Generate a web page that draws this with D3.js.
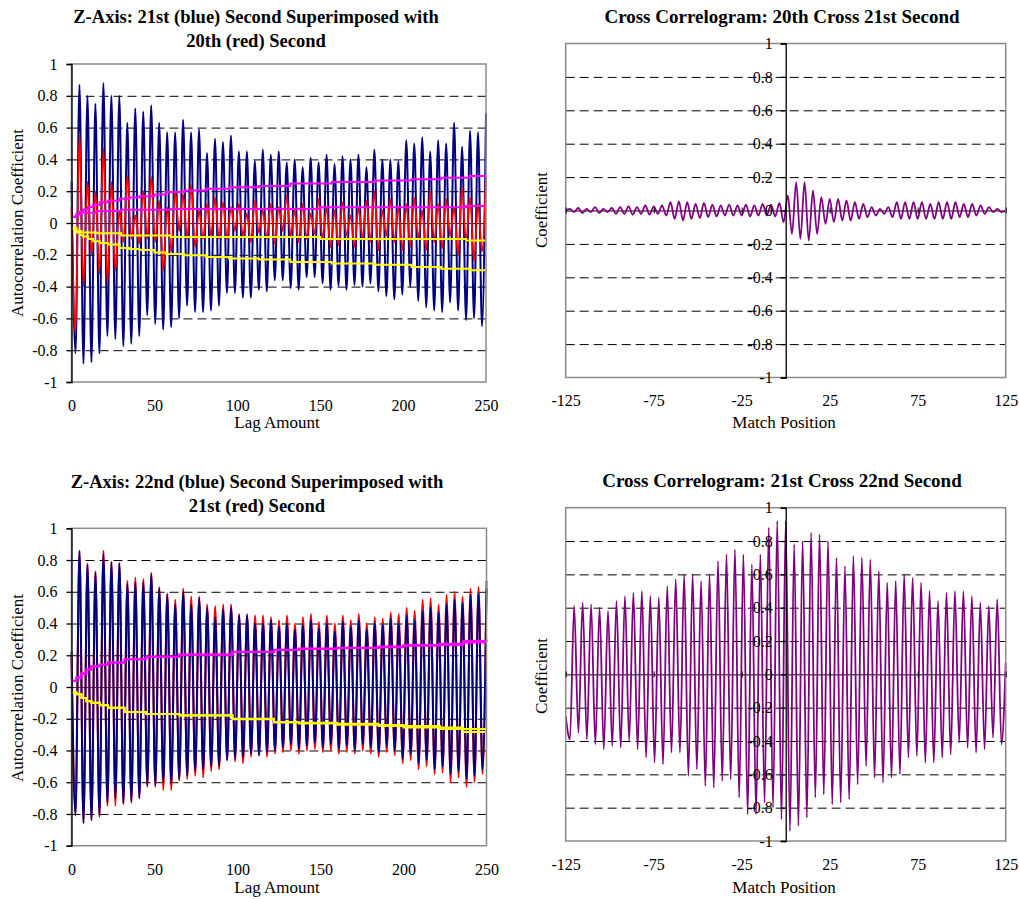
<!DOCTYPE html>
<html>
<head>
<meta charset="utf-8">
<script src="https://cdn.jsdelivr.net/npm/d3@7"></script>
<style>
  body { margin: 0; background: #fff; }
  text { font-family: "Liberation Serif", "Times New Roman", serif; fill: #000; }
</style>
</head>
<body>
<svg id="chart" width="1019" height="899"></svg>
<script>
// ---- axis ticks ----
const yTicks = [-1, -0.8, -0.6, -0.4, -0.2, 0, 0.2, 0.4, 0.6, 0.8, 1];
const yTickLabels = ['-1', '-0.8', '-0.6', '-0.4', '-0.2', '0', '0.2', '0.4', '0.6', '0.8', '1'];
const gridTicks = [-0.8, -0.6, -0.4, -0.2, 0.2, 0.4, 0.6, 0.8];
const lagTicks = [0, 50, 100, 150, 200, 250];
const matchTicks = [-125, -75, -25, 25, 75, 125];

// ---- top left: 21st (blue) vs 20th (red), turning points ----
const blue21Peaks = [0.26, 0.87, 0.80, 0.75, 0.88, 0.80, 0.80, 0.63, 0.72, 0.70, 0.74, 0.63, 0.57, 0.57, 0.65, 0.57, 0.59, 0.44, 0.53, 0.51, 0.55, 0.45, 0.45, 0.39, 0.46, 0.43, 0.45, 0.38, 0.40, 0.35, 0.41, 0.38, 0.43, 0.37, 0.42, 0.40, 0.43, 0.35, 0.46, 0.40, 0.40, 0.39, 0.52, 0.50, 0.54, 0.45, 0.52, 0.50, 0.63, 0.48, 0.58, 0.57, 0.69];
const blue21Troughs = [-0.82, -0.885, -0.875, -0.82, -0.71, -0.73, -0.775, -0.76, -0.71, -0.58, -0.635, -0.67, -0.655, -0.60, -0.52, -0.56, -0.56, -0.55, -0.52, -0.44, -0.44, -0.47, -0.47, -0.42, -0.43, -0.36, -0.36, -0.41, -0.42, -0.34, -0.34, -0.38, -0.42, -0.395, -0.42, -0.39, -0.40, -0.38, -0.43, -0.46, -0.48, -0.45, -0.40, -0.49, -0.53, -0.55, -0.56, -0.50, -0.55, -0.61, -0.60, -0.65];
const red20Peaks = [0.10, 0.57, 0.26, 0.20, 0.47, 0.26, 0.08, 0.30, 0.05, 0.20, 0.29, 0.14, 0.10, 0.20, 0.18, 0.24, 0.08, 0.12, 0.16, 0.13, 0.10, 0.12, 0.06, 0.14, 0.08, 0.12, 0.10, 0.17, 0.08, 0.12, 0.06, 0.15, 0.10, 0.08, 0.13, 0.05, 0.10, 0.14, 0.20, 0.08, 0.15, 0.10, 0.12, 0.16, 0.08, 0.20, 0.12, 0.15, 0.10, 0.22, 0.16, 0.12, 0.30];
const red20Troughs = [-0.69, -0.40, -0.20, -0.32, -0.38, -0.30, -0.12, -0.10, -0.13, -0.10, -0.12, -0.30, -0.18, -0.05, -0.10, -0.15, -0.10, -0.08, -0.10, -0.10, -0.05, -0.08, -0.12, -0.06, -0.10, -0.13, -0.05, -0.08, -0.12, -0.10, -0.07, -0.10, -0.15, -0.14, -0.08, -0.15, -0.10, -0.12, -0.17, -0.08, -0.12, -0.17, -0.15, -0.10, -0.17, -0.12, -0.16, -0.08, -0.20, -0.12, -0.24, -0.18];

// confidence bands (step lines)
const tlBlueBandLags = [0, 3, 5, 7, 10, 13, 17, 22, 29, 35, 41, 50, 57, 68, 81, 95, 113, 132, 157, 183, 205, 223, 240, 250];
const tlBlueBandHi = [0.04, 0.055, 0.07, 0.085, 0.10, 0.115, 0.13, 0.14, 0.153, 0.16, 0.168, 0.18, 0.195, 0.205, 0.216, 0.225, 0.233, 0.248, 0.258, 0.268, 0.275, 0.285, 0.296, 0.296];
const tlBlueBandLo = [-0.04, -0.06, -0.075, -0.085, -0.10, -0.115, -0.125, -0.135, -0.157, -0.163, -0.17, -0.185, -0.195, -0.203, -0.214, -0.224, -0.23, -0.245, -0.255, -0.262, -0.277, -0.287, -0.297, -0.297];
const tlRedBandLags = [0, 3, 6, 15, 30, 60, 150, 238, 250];
const tlRedBandHi = [0.04, 0.055, 0.065, 0.075, 0.084, 0.088, 0.099, 0.107, 0.107];
const tlRedBandLo = [-0.03, -0.05, -0.06, -0.065, -0.078, -0.088, -0.10, -0.11, -0.11];

// ---- bottom left: 22nd (blue) vs 21st (red) ----
const blue22Peaks = [0.22, 0.86, 0.77, 0.72, 0.84, 0.785, 0.78, 0.65, 0.66, 0.66, 0.71, 0.62, 0.58, 0.52, 0.60, 0.52, 0.56, 0.50, 0.44, 0.49, 0.50, 0.45, 0.45, 0.40, 0.40, 0.42, 0.38, 0.40, 0.36, 0.39, 0.42, 0.37, 0.40, 0.35, 0.41, 0.38, 0.42, 0.36, 0.40, 0.39, 0.43, 0.40, 0.45, 0.42, 0.48, 0.50, 0.47, 0.52, 0.55, 0.53, 0.58, 0.59, 0.62];
const blue22Troughs = [-0.81, -0.86, -0.84, -0.81, -0.73, -0.70, -0.73, -0.72, -0.70, -0.62, -0.62, -0.60, -0.61, -0.58, -0.56, -0.53, -0.52, -0.50, -0.50, -0.46, -0.45, -0.44, -0.42, -0.43, -0.41, -0.40, -0.38, -0.36, -0.39, -0.37, -0.35, -0.38, -0.36, -0.39, -0.37, -0.40, -0.36, -0.38, -0.41, -0.37, -0.40, -0.45, -0.42, -0.48, -0.46, -0.52, -0.50, -0.55, -0.53, -0.58, -0.56, -0.52];
const red21Peaks = [0.20, 0.85, 0.78, 0.73, 0.86, 0.79, 0.78, 0.67, 0.69, 0.68, 0.72, 0.63, 0.59, 0.55, 0.62, 0.57, 0.57, 0.52, 0.51, 0.52, 0.52, 0.46, 0.46, 0.45, 0.45, 0.44, 0.42, 0.45, 0.40, 0.44, 0.46, 0.41, 0.45, 0.40, 0.45, 0.42, 0.46, 0.40, 0.44, 0.43, 0.47, 0.46, 0.50, 0.48, 0.55, 0.56, 0.52, 0.58, 0.60, 0.57, 0.62, 0.63, 0.67];
const red21Troughs = [-0.80, -0.85, -0.83, -0.82, -0.75, -0.75, -0.74, -0.73, -0.70, -0.63, -0.63, -0.65, -0.65, -0.59, -0.58, -0.56, -0.57, -0.53, -0.52, -0.46, -0.47, -0.48, -0.44, -0.43, -0.44, -0.42, -0.41, -0.40, -0.42, -0.40, -0.39, -0.41, -0.40, -0.42, -0.41, -0.42, -0.40, -0.42, -0.44, -0.41, -0.43, -0.48, -0.46, -0.52, -0.50, -0.55, -0.54, -0.60, -0.57, -0.63, -0.60, -0.55];

const blBandLags = [0, 3, 6, 9, 12, 17, 22, 32, 45, 65, 97, 122, 137, 160, 185, 200, 222, 236, 250];
const blBlueBandHi = [0.04, 0.06, 0.085, 0.11, 0.13, 0.14, 0.155, 0.175, 0.19, 0.204, 0.22, 0.233, 0.24, 0.245, 0.25, 0.26, 0.265, 0.28, 0.28];
const blRedBandHi = [0.04, 0.06, 0.085, 0.11, 0.13, 0.14, 0.155, 0.175, 0.19, 0.205, 0.222, 0.235, 0.242, 0.248, 0.255, 0.265, 0.272, 0.29, 0.30];
const blBlueBandLo = [-0.035, -0.045, -0.07, -0.09, -0.10, -0.115, -0.13, -0.157, -0.17, -0.178, -0.20, -0.22, -0.225, -0.232, -0.24, -0.245, -0.255, -0.265, -0.27];
const blRedBandLo = [-0.035, -0.045, -0.07, -0.09, -0.10, -0.115, -0.13, -0.157, -0.17, -0.18, -0.203, -0.224, -0.23, -0.238, -0.245, -0.255, -0.265, -0.283, -0.283];

// ---- cross correlograms ----
const cc2021Ends = [0.0, 0.0];
const cc2021Peaks = [0.01, 0.015, 0.01, 0.02, 0.01, 0.015, 0.02, 0.025, 0.02, 0.03, 0.025, 0.03, 0.05, 0.055, 0.05, 0.04, 0.045, 0.035, 0.03, 0.035, 0.03, 0.035, 0.03, 0.04, 0.035, 0.045, 0.09, 0.17, 0.17, 0.12, 0.08, 0.07, 0.07, 0.06, 0.05, 0.04, 0.02, 0.01, 0.02, 0.05, 0.05, 0.05, 0.05, 0.04, 0.05, 0.05, 0.05, 0.04, 0.04, 0.03, 0.02, 0.01];
const cc2021Troughs = [-0.01, -0.015, -0.01, -0.015, -0.01, -0.02, -0.02, -0.025, -0.02, -0.025, -0.02, -0.03, -0.05, -0.06, -0.05, -0.045, -0.04, -0.035, -0.03, -0.03, -0.03, -0.035, -0.03, -0.03, -0.035, -0.07, -0.14, -0.17, -0.18, -0.14, -0.08, -0.07, -0.06, -0.06, -0.05, -0.04, -0.03, -0.02, -0.04, -0.05, -0.05, -0.05, -0.05, -0.05, -0.05, -0.05, -0.04, -0.04, -0.03, -0.02, -0.01, -0.01];

const cc2122Ends = [-0.25, 0.07];
const cc2122Troughs = [-0.39, -0.35, -0.39, -0.42, -0.45, -0.43, -0.44, -0.40, -0.45, -0.50, -0.53, -0.54, -0.47, -0.47, -0.61, -0.57, -0.67, -0.68, -0.64, -0.63, -0.74, -0.84, -0.84, -0.77, -0.80, -0.87, -0.94, -0.91, -0.86, -0.74, -0.72, -0.78, -0.77, -0.75, -0.66, -0.55, -0.62, -0.65, -0.62, -0.60, -0.50, -0.49, -0.53, -0.53, -0.50, -0.48, -0.41, -0.44, -0.47, -0.45, -0.38, -0.42];
const cc2122Peaks = [0.41, 0.43, 0.42, 0.40, 0.38, 0.44, 0.47, 0.49, 0.50, 0.47, 0.46, 0.53, 0.57, 0.60, 0.60, 0.56, 0.60, 0.68, 0.72, 0.75, 0.72, 0.66, 0.72, 0.88, 0.92, 0.92, 0.78, 0.80, 0.85, 0.84, 0.80, 0.70, 0.65, 0.71, 0.70, 0.69, 0.62, 0.55, 0.56, 0.60, 0.58, 0.55, 0.50, 0.44, 0.49, 0.50, 0.50, 0.47, 0.43, 0.41, 0.45];

const svg = d3.select('#chart');

// alternate two lists of turning points
function interleave(a, b) {
  let out = [];
  for (let i = 0; i < Math.max(a.length, b.length); i++) {
    if (i < a.length) out.push(a[i]);
    if (i < b.length) out.push(b[i]);
  }
  return out;
}

// samples are evenly spaced over the lag range
function spread(vals, x0, x1) {
  let step = (x1 - x0) / (vals.length - 1);
  return vals.map((v, i) => [x0 + i * step, v]);
}

function drawPanel(cfg) {
  let g = svg.append('g');
  let x = d3.scaleLinear().domain(cfg.xDomain).range([cfg.left, cfg.right]);
  let y = d3.scaleLinear().domain([-1, 1]).range([cfg.bottom, cfg.top]);
  let w = cfg.right - cfg.left;

  // dashed gridlines
  g.append('g')
    .attr('transform', `translate(${cfg.left},0)`)
    .call(d3.axisLeft(y).tickValues(gridTicks).tickSize(-w).tickFormat(''))
    .call(a => a.select('.domain').remove())
    .selectAll('line')
    .attr('stroke', '#000')
    .attr('stroke-dasharray', '9,5');

  // zero line
  g.append('g')
    .attr('transform', `translate(${cfg.left},0)`)
    .call(d3.axisLeft(y).tickValues([0]).tickSize(-w).tickFormat(''))
    .call(a => a.select('.domain').remove())
    .selectAll('line')
    .attr('stroke', cfg.zeroColor);

  let line = d3.line()
    .x(d => x(d[0]))
    .y(d => y(d[1]))
    .curve(d3.curveMonotoneX);

  cfg.series.forEach(s => {
    g.append('path')
      .datum(spread(s.values, cfg.xDomain[0], cfg.xDomain[1]))
      .attr('d', line)
      .attr('fill', 'none')
      .attr('stroke', s.color)
      .attr('stroke-width', s.width)
      .attr('stroke-linejoin', 'round');
  });

  let stepLine = d3.line()
    .x(d => x(d[0]))
    .y(d => y(d[1]))
    .curve(d3.curveStepAfter);

  (cfg.bands || []).forEach(b => {
    g.append('path')
      .datum(d3.zip(b.lags, b.values))
      .attr('d', stepLine)
      .attr('fill', 'none')
      .attr('stroke', b.color)
      .attr('stroke-width', 2);
  });

  // plot area border
  g.append('rect')
    .attr('x', cfg.left).attr('y', cfg.top)
    .attr('width', w).attr('height', cfg.bottom - cfg.top)
    .attr('fill', 'none')
    .attr('stroke', '#8a8a8a')
    .attr('stroke-width', 1.5);

  // y axis (at the left edge, or at x = 0 for the correlograms)
  let yAxisX = cfg.yAxisAt === null ? cfg.left : x(cfg.yAxisAt);
  let yAx = g.append('g')
    .attr('transform', `translate(${yAxisX},0)`)
    .call(d3.axisLeft(y).tickValues(yTicks).tickFormat((d, i) => yTickLabels[i]).tickSize(5).tickPadding(cfg.yPad));
  yAx.attr('font-family', null).attr('font-size', null);
  yAx.selectAll('path, line').attr('stroke', '#000').attr('stroke-width', 1.3);
  yAx.selectAll('text').style('font-size', '16px');

  // x tick marks crossing the zero line
  if (cfg.zeroTicks) {
    g.append('g')
      .attr('transform', `translate(0,${y(0) - 3})`)
      .call(d3.axisBottom(x).tickValues(cfg.xTicks).tickSize(6).tickFormat(''))
      .call(a => a.select('.domain').remove())
      .selectAll('line').attr('stroke', '#000');
  }

  // x labels sit below the plot area (plain hyphen for negatives)
  let xAx = g.append('g')
    .attr('transform', `translate(0,${cfg.bottom})`)
    .call(d3.axisBottom(x).tickValues(cfg.xTicks).tickFormat(d => String(d)).tickSize(0).tickPadding(17.5))
    .call(a => a.select('.domain').remove());
  xAx.attr('font-family', null).attr('font-size', null);
  xAx.selectAll('text').style('font-size', '16px');

  // titles
  cfg.title.forEach((t, i) => {
    g.append('text')
      .attr('x', cfg.titleX)
      .attr('y', cfg.titleY + i * 24)
      .attr('text-anchor', 'middle')
      .style('font-size', cfg.titleSize + 'px')
      .style('font-weight', 'bold')
      .text(t);
  });

  g.append('text')
    .attr('x', cfg.xLabelX)
    .attr('y', cfg.xLabelY)
    .attr('text-anchor', 'middle')
    .style('font-size', '17px')
    .text(cfg.xLabel);

  g.append('text')
    .attr('transform', `translate(${cfg.yLabelX},${cfg.yLabelY}) rotate(-90)`)
    .attr('text-anchor', 'middle')
    .style('font-size', '17px')
    .text(cfg.yLabel);
}

// top left
drawPanel({
  left: 71.5, right: 486, top: 64, bottom: 382,
  xDomain: [0, 250], xTicks: lagTicks, yAxisAt: null, yPad: 9,
  zeroColor: '#333', zeroTicks: false,
  title: ['Z-Axis: 21st (blue) Second Superimposed with', '20th (red) Second'],
  titleX: 256, titleY: 23, titleSize: 18.5,
  xLabel: 'Lag Amount', xLabelX: 277, xLabelY: 428,
  yLabel: 'Autocorrelation Coefficient', yLabelX: 23, yLabelY: 223,
  series: [
    {values: interleave(blue21Peaks, blue21Troughs), color: '#000080', width: 2},
    {values: interleave(red20Peaks, red20Troughs), color: '#ff0000', width: 1.8}
  ],
  bands: [
    {lags: tlBlueBandLags, values: tlBlueBandHi, color: '#ff00ff'},
    {lags: tlRedBandLags, values: tlRedBandHi, color: '#ff00ff'},
    {lags: tlRedBandLags, values: tlRedBandLo, color: '#ffff00'},
    {lags: tlBlueBandLags, values: tlBlueBandLo, color: '#ffff00'}
  ]
});

// top right
drawPanel({
  left: 565.7, right: 1005.7, top: 43.5, bottom: 377.5,
  xDomain: [-125, 125], xTicks: matchTicks, yAxisAt: 0, yPad: 8,
  zeroColor: '#000', zeroTicks: true,
  title: ['Cross Correlogram: 20th Cross 21st Second'],
  titleX: 782, titleY: 23, titleSize: 19,
  xLabel: 'Match Position', xLabelX: 784, xLabelY: 428,
  yLabel: 'Coefficient', yLabelX: 547, yLabelY: 210,
  series: [
    {values: [cc2021Ends[0]].concat(interleave(cc2021Peaks, cc2021Troughs), [cc2021Ends[1]]), color: '#800080', width: 1.8}
  ]
});

// bottom left
drawPanel({
  left: 71.5, right: 486.5, top: 528.3, bottom: 845.7,
  xDomain: [0, 250], xTicks: lagTicks, yAxisAt: null, yPad: 9,
  zeroColor: '#333', zeroTicks: false,
  title: ['Z-Axis: 22nd (blue) Second Superimposed with', '21st (red) Second'],
  titleX: 257, titleY: 488, titleSize: 18.5,
  xLabel: 'Lag Amount', xLabelX: 277, xLabelY: 893,
  yLabel: 'Autocorrelation Coefficient', yLabelX: 23, yLabelY: 688,
  series: [
    {values: interleave(red21Peaks, red21Troughs), color: '#ff0000', width: 2},
    {values: interleave(blue22Peaks, blue22Troughs), color: '#000080', width: 2}
  ],
  bands: [
    {lags: blBandLags, values: blRedBandHi, color: '#ff00ff'},
    {lags: blBandLags, values: blBlueBandHi, color: '#ff00ff'},
    {lags: blBandLags, values: blRedBandLo, color: '#ffff00'},
    {lags: blBandLags, values: blBlueBandLo, color: '#ffff00'}
  ]
});

// bottom right
drawPanel({
  left: 565.7, right: 1005.7, top: 507.7, bottom: 841,
  xDomain: [-125, 125], xTicks: matchTicks, yAxisAt: 0, yPad: 8,
  zeroColor: '#000', zeroTicks: true,
  title: ['Cross Correlogram: 21st Cross 22nd Second'],
  titleX: 782, titleY: 487, titleSize: 19,
  xLabel: 'Match Position', xLabelX: 784, xLabelY: 893,
  yLabel: 'Coefficient', yLabelX: 547, yLabelY: 676,
  series: [
    {values: [cc2122Ends[0]].concat(interleave(cc2122Troughs, cc2122Peaks), [cc2122Ends[1]]), color: '#800080', width: 1.8}
  ]
});
</script>
</body>
</html>
